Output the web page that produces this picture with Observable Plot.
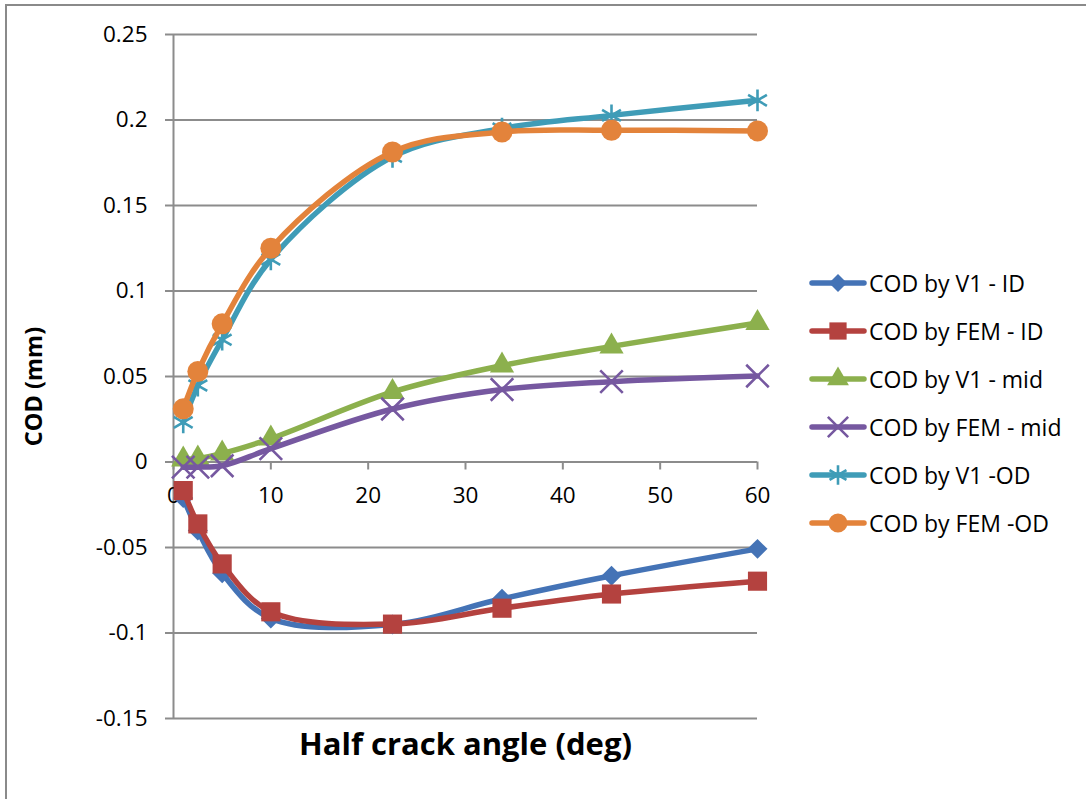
<!DOCTYPE html>
<html>
<head>
<meta charset="utf-8">
<script src="https://cdn.jsdelivr.net/npm/d3@7"></script>
<script src="https://cdn.jsdelivr.net/npm/@observablehq/plot@0.6"></script>
<style>
  html, body { margin: 0; padding: 0; background: #fff; }
  #wrap { position: relative; width: 1086px; height: 799px; overflow: hidden; font-family: "Open Sans", sans-serif; }
  #border { position: absolute; left: 5px; top: 4px; width: 1200px; height: 1000px; border: 2px solid #8a8a8a; box-sizing: border-box; }
  #chart { position: absolute; left: 0; top: 0; }
  .lg { position: absolute; left: 806px; height: 32px; display: flex; align-items: center; font-size: 23px; color: #000; white-space: nowrap; }
  .lg svg { display: block; margin-right: 1px; }
</style>
</head>
<body>
<div id="wrap">
  <div id="border"></div>
  <div id="chart"></div>
  <div id="legend"></div>
</div>
<script>
// ---- data ----
const angles = [1, 2.5, 5, 10, 22.5, 33.75, 45, 60];
const codV1ID   = [-0.021, -0.040, -0.065, -0.0915, -0.095, -0.080, -0.0665, -0.0508];
const codFEMID  = [-0.0167, -0.0362, -0.0596, -0.0876, -0.0948, -0.0855, -0.0772, -0.0697];
const codV1mid  = [0.0015, 0.002, 0.005, 0.0137, 0.041, 0.0564, 0.0676, 0.0813];
const codFEMmid = [-0.003, -0.003, -0.0022, 0.0078, 0.031, 0.0424, 0.047, 0.0503];
const codV1OD   = [0.0232, 0.0447, 0.0715, 0.1185, 0.1785, 0.195, 0.2027, 0.2115];
const codFEMOD  = [0.0311, 0.0529, 0.0808, 0.125, 0.1813, 0.193, 0.194, 0.1936];
const seriesNames = ["COD by V1 - ID", "COD by FEM - ID", "COD by V1 - mid", "COD by FEM - mid", "COD by V1 -OD", "COD by FEM -OD"];
const seriesValues = [codV1ID, codFEMID, codV1mid, codFEMmid, codV1OD, codFEMOD];
const xTicks = [0, 10, 20, 30, 40, 50, 60];
const xTickLabels = ["0", "10", "20", "30", "40", "50", "60"];
const yTicks = [-0.15, -0.1, -0.05, 0, 0.05, 0.1, 0.15, 0.2, 0.25];
const yTickLabels = ["-0.15", "-0.1", "-0.05", "0", "0.05", "0.1", "0.15", "0.2", "0.25"];
const xTitle = "Half crack angle (deg)";
const yTitle = "COD (mm)";

// ---- styles ----
const colors  = ["#4473B6", "#B4423F", "#8CB04D", "#7658A0", "#3F9CB7", "#E3833B"];
const symbols = ["diamond2", "square", "triangle", "times", "asterisk", "circle"];
const radii   = [9, 10.8, 9, 10.3, 10.3, 10.5];
const filled  = [true, true, true, false, false, true];
const gridColor = "#8c8c8c";

const W = 1086, H = 799;
const series = seriesValues.map((vals, k) => angles.map((a, i) => ({x: a, y: vals[i], k})));

const marks = [
  Plot.ruleY(yTicks, {stroke: gridColor, strokeWidth: 2}),
  Plot.ruleX([0], {y1: -0.15, y2: 0.25, stroke: gridColor, strokeWidth: 2}),
  Plot.axisY({ticks: yTicks, tickSize: 8, tickPadding: 18, tickFormat: d => yTickLabels[yTicks.indexOf(d)],
              stroke: gridColor, strokeWidth: 2, fill: "#000", fontSize: 22.5, label: null}),
  Plot.ruleX(xTicks, {x: d => d, y1: 0, y2: 0, insetBottom: -8, stroke: gridColor, strokeWidth: 2}),
  Plot.text(xTicks, {x: d => d, y: 0, text: (d, i) => xTickLabels[i], dy: 34, fontSize: 22.5, fill: "#000"}),
  Plot.text([xTitle], {frameAnchor: "bottom", dy: 36, fontSize: 31, fontWeight: "bold", fill: "#000"}),
  Plot.text([yTitle], {frameAnchor: "left", textAnchor: "middle", dx: -139, dy: 10, rotate: -90, fontSize: 23.5, fontWeight: "bold", fill: "#000"})
];
series.forEach((data, k) => {
  marks.push(Plot.line(data, {x: "x", y: "y", stroke: colors[k], strokeWidth: 5.5, curve: "catmull-rom", strokeLinecap: "round"}));
  marks.push(Plot.dot(data, filled[k]
    ? {x: "x", y: "y", symbol: symbols[k], r: radii[k], fill: colors[k], stroke: "none"}
    : {x: "x", y: "y", symbol: symbols[k], r: radii[k], stroke: colors[k], strokeWidth: 2.6, fill: "none"}));
});

const chart = Plot.plot({
  width: W, height: H,
  marginLeft: 173, marginTop: 34, marginRight: W - 757, marginBottom: H - 718,
  x: {domain: [0, 60], axis: null},
  y: {domain: [-0.15, 0.25], axis: null},
  style: {fontFamily: "Open Sans, sans-serif", fontSize: "22.5px", background: "transparent", overflow: "visible"},
  marks
});
document.getElementById("chart").appendChild(chart);

// ---- legend ----
const legendRowsY = [283, 331, 378.5, 426.5, 474.5, 522.5];
const lg = d3.select("#legend");
const symMap = {diamond2: d3.symbolDiamond2, square: d3.symbolSquare, triangle: d3.symbolTriangle,
                times: d3.symbolTimes, asterisk: d3.symbolAsterisk, circle: d3.symbolCircle};
seriesNames.forEach((name, k) => {
  const row = lg.append("div").attr("class", "lg").style("top", (legendRowsY[k] - 16) + "px");
  const svg = row.append("svg").attr("width", 62).attr("height", 32);
  svg.append("line").attr("x1", 6).attr("x2", 58).attr("y1", 16).attr("y2", 16)
     .attr("stroke", colors[k]).attr("stroke-width", 5.5).attr("stroke-linecap", "round");
  const r = radii[k] * 0.9;
  const p = svg.append("path").attr("transform", "translate(32,16)")
     .attr("d", d3.symbol(symMap[symbols[k]], r * r * Math.PI)());
  if (filled[k]) p.attr("fill", colors[k]); else p.attr("fill", "none").attr("stroke", colors[k]).attr("stroke-width", 2.6);
  row.append("span").text(name);
});
</script>
</body>
</html>
